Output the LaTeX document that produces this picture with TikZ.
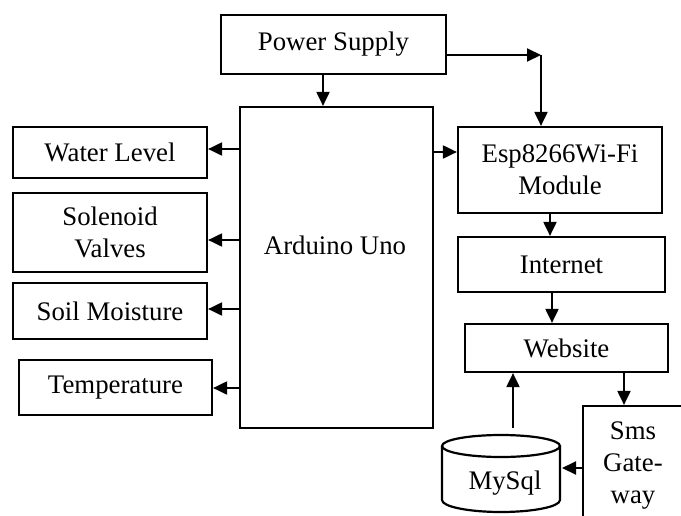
\documentclass[tikz,border=0pt]{standalone}
\usepackage{fontspec}
\setmainfont{Liberation Serif}
\usetikzlibrary{arrows.meta}
\begin{document}
\begin{tikzpicture}[x=1pt,y=-1pt,
  box/.style={draw, line width=2.2pt, inner sep=0pt, align=center, font=\fontsize{26.8}{32}\selectfont},
  txt/.style={inner sep=0pt, align=center, font=\fontsize{26.8}{32}\selectfont},
  arr/.style={line width=2pt, -{Triangle[length=14pt,width=13pt]}},
  ln/.style={line width=2.2pt}]
\useasboundingbox (0,0) rectangle (681,515);
\clip (0,0) rectangle (681,515);
% boxes
\node[box, minimum width=225pt, minimum height=59pt] (ps) at (333.5,44.5) {Power Supply};
\node[box, minimum width=193pt, minimum height=321pt] (ard) at (336.5,267.5) {};
\node[txt] (ardtxt) at (335,245) {Arduino Uno};
\node[box, minimum width=194pt, minimum height=51pt] (water) at (110,152.5) {Water Level};
\node[box, minimum width=194pt, minimum height=79pt] (sol) at (110,232.5) {Solenoid\\Valves};
\node[box, minimum width=194pt, minimum height=56pt] (soil) at (110,311) {Soil Moisture};
\node[box, minimum width=193pt, minimum height=55pt] (temp) at (115.5,387.5) {Temperature};
\node[box, minimum width=204pt, minimum height=86pt] (esp) at (560,170) {Esp8266Wi-Fi\\Module};
\node[box, minimum width=207pt, minimum height=55pt] (inet) at (561.5,264.5) {Internet};
\node[box, minimum width=203pt, minimum height=48pt] (web) at (566.5,348) {Website};
\node[box, minimum width=107pt, minimum height=124pt] (sms) at (636.5,468) {};
\node[txt] (smstxt) at (633,466) {Sms\\Gate-\\way};
% MySql cylinder
\draw[ln] (442,446) -- (442,500) .. controls (442,506.6) and (468.4,512) .. (501,512)
  .. controls (533.6,512) and (560,506.6) .. (560,500) -- (560,446);
\draw[ln] (501,446) ellipse [x radius=59pt, y radius=11pt];
\node[txt] (db) at (505,483) {MySql};
\coordinate (dbtop) at (513,428);
\coordinate (dbright) at (562,468);
% connectors
\coordinate (corner) at (541,55);
\draw[arr] (ps.east |- corner) -- (corner);
\draw[ln] (corner) -- ++(0,10);
\draw[arr] (corner) -- (corner |- esp.north);
\draw[arr] (ps.south -| ard.north) ++(-13.5,0) coordinate (pss) -- (pss |- ard.north);
\draw[arr] (ard.east |- 0,152) -- (esp.west |- 0,152);
\draw[arr] (ard.west |- 0,149) -- (water.east |- 0,149);
\draw[arr] (ard.west |- 0,240) -- (sol.east |- 0,240);
\draw[arr] (ard.west |- 0,309) -- (soil.east |- 0,309);
\draw[arr] (ard.west |- 0,388) -- (temp.east |- 0,388);
\draw[arr] (esp.south -| 550,0) -- (inet.north -| 550,0);
\draw[arr] (inet.south -| 552,0) -- (web.north -| 552,0);
\draw[arr] (web.south -| 624,0) -- (sms.north -| 624,0);
\draw[arr] (dbtop) -- (web.south -| dbtop);
\draw[arr] (sms.west |- dbright) -- (dbright);
\end{tikzpicture}
\end{document}
